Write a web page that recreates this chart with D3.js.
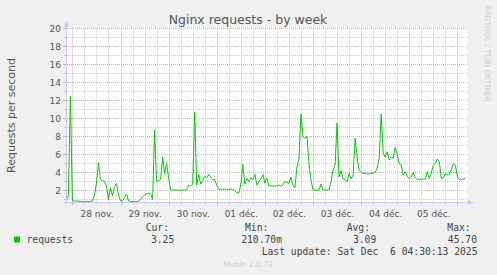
<!DOCTYPE html>
<html><head><meta charset="utf-8">
<script src="https://cdn.jsdelivr.net/npm/d3@7"></script>
<style>
html,body{margin:0;padding:0;background:#f0f0f0;}
svg{display:block;}
text{font-family:"DejaVu Sans",sans-serif;}
.mono{font-family:"DejaVu Sans Mono",monospace;white-space:pre;}
</style></head><body>
<svg id="c" width="497" height="275"></svg>
<script>
// ---- data ----
const title = "Nginx requests - by week";
const yAxisTitle = "Requests per second";
const seriesName = "requests";
const firstSample = Date.UTC(2025, 10, 27, 21, 0, 0); // hourly samples
const stepMs = 3600e3;
const requests = [
  0.95, 1.5, 12.5,
  0.85, 0.83, 0.83, 0.82, 0.80, 0.78, 0.76, 0.78, 0.78, 0.80, 0.82, 1.5,
  2.8, 5.1, 3.2, 3.1, 3.0, 2.5, 1.0, 2.3, 1.4, 2.4, 2.8, 1.5,
  0.85, 0.85, 1.2, 1.6, 0.85, 0.78, 0.78, 0.77, 0.76, 0.80, 1.0, 1.3,
  1.5, 1.6, 1.7, 1.6, 1.0, 8.7, 3.0, 3.1, 3.2, 5.7, 3.9, 5.0,
  3.4, 2.1, 2.05, 2.05, 2.05, 2.05, 2.0, 2.05, 2.05, 2.05, 2.6, 2.5,
  2.7, 10.7, 2.6, 3.8, 2.7, 3.1, 3.6, 3.4, 3.8, 3.5, 3.2, 3.2,
  2.6, 2.15, 2.15, 2.15, 2.15, 2.1, 2.1, 2.2, 2.1, 2.0, 1.8, 1.7,
  2.7, 4.9, 2.7, 3.35, 3.0, 3.4, 3.2, 3.8, 2.6, 3.0, 3.3, 3.8,
  2.8, 3.4, 2.5, 2.5, 2.5, 2.5, 2.5, 2.6, 2.5, 2.6, 3.0, 2.9,
  2.8, 3.5, 2.6, 2.3, 4.6, 5.5, 10.5, 8.0, 7.8, 8.0, 5.0, 3.2,
  2.05, 2.05, 2.0, 2.1, 2.7, 2.05, 2.05, 2.05, 2.1, 3.0, 4.3, 4.8,
  9.5, 3.5, 4.2, 3.3, 3.2, 3.0, 3.9, 3.3, 3.6, 7.8, 5.8, 4.3,
  4.0, 3.9, 3.9, 3.85, 3.85, 3.9, 3.9, 4.0, 4.5, 5.6, 10.5, 6.2,
  5.7, 6.3, 5.4, 5.7, 5.6, 6.8, 6.0, 5.0, 4.8, 3.7, 4.1, 3.6,
  3.3, 3.5, 4.0, 3.4, 3.25, 3.25, 3.25, 3.3, 3.25, 4.1, 3.3, 4.0,
  4.8, 5.0, 5.5, 5.2, 3.35, 3.4, 3.9, 3.7, 3.8, 4.3, 5.0, 4.8,
  3.6, 3.25, 3.2, 3.3, 3.3
];
const yMajorTicks = [2, 4, 6, 8, 10, 12, 14, 16, 18, 20];
const yMinorTicks = [1, 3, 5, 7, 9, 11, 13, 15, 17, 19];
const dayLabels = ["28 nov.", "29 nov.", "30 nov.", "01 déc.", "02 déc.", "03 déc.", "04 déc.", "05 déc."];
const legendHeads = ["Cur:", "Min:", "Avg:", "Max:"];
const legendValues = ["3.25", "210.70m", "3.09", "45.70"];
const lastUpdate = "Last update: Sat Dec  6 04:30:13 2025";
const footer = "Munin 2.0.73";
const sideText = "RRDTOOL / TOBI OETIKER";

// ---- layout ----
const L = 67, R = 467, T = 28.5, B = 202.5;
const viewStart = Date.UTC(2025, 10, 27, 21, 18, 25);
const viewEnd = viewStart + 199.5 * 3600e3;
const x = d3.scaleUtc().domain([viewStart, viewEnd]).range([L, R]);
const y = d3.scaleLinear().domain([0.667, 20]).range([B, T]);

const svg = d3.select("#c");
const lineCol = "#00cc00";
const majorCol = "#eba3a3", minorCol = "#c8c8c8", axisCol = "#c8c8f2", txtCol = "#555";

svg.append("rect").attr("width", 497).attr("height", 275).attr("fill", "#f0f0f0");
svg.append("rect").attr("x", L).attr("y", 28).attr("width", R - L).attr("height", B - 28).attr("fill", "#fff");

const px = v => Math.round(v) + 0.5;
const majors = d3.utcDay.range(new Date(viewStart), new Date(viewEnd));
const minors = d3.utcHour.every(6).range(new Date(viewStart), new Date(viewEnd))
  .filter(d => d.getUTCHours() !== 0);

const g = svg.append("g");
// minor grid
g.selectAll(".vmin").data(minors).join("line")
  .attr("x1", d => px(x(d))).attr("x2", d => px(x(d))).attr("y1", T).attr("y2", B)
  .attr("stroke", minorCol).attr("stroke-dasharray", "1,1");
g.selectAll(".hmin").data(yMinorTicks).join("line")
  .attr("x1", L).attr("x2", R).attr("y1", d => y(d)).attr("y2", d => y(d))
  .attr("stroke", minorCol).attr("stroke-dasharray", "1,1");
// major grid
g.selectAll(".vmaj").data(majors).join("line")
  .attr("x1", d => px(x(d))).attr("x2", d => px(x(d))).attr("y1", T).attr("y2", B)
  .attr("stroke", majorCol).attr("stroke-dasharray", "1,1");
g.selectAll(".hmaj").data(yMajorTicks).join("line")
  .attr("x1", L).attr("x2", R).attr("y1", d => y(d)).attr("y2", d => y(d))
  .attr("stroke", majorCol).attr("stroke-dasharray", "1,1");

// tick marks
g.selectAll(".tmin").data(minors).join("line")
  .attr("x1", d => px(x(d))).attr("x2", d => px(x(d))).attr("y1", B).attr("y2", B + 2)
  .attr("stroke", minorCol);
g.selectAll(".tmaj").data(majors).join("line")
  .attr("x1", d => px(x(d))).attr("x2", d => px(x(d))).attr("y1", B).attr("y2", B + 3)
  .attr("stroke", majorCol);
g.selectAll(".ytmin").data(yMinorTicks).join("line")
  .attr("x1", 64).attr("x2", 66).attr("y1", d => y(d)).attr("y2", d => y(d)).attr("stroke", minorCol);
g.selectAll(".ytmaj").data(yMajorTicks).join("line")
  .attr("x1", 63).attr("x2", 66).attr("y1", d => y(d)).attr("y2", d => y(d)).attr("stroke", majorCol);

// axes lines + arrows
svg.append("line").attr("x1", 66.5).attr("x2", 66.5).attr("y1", B + 2).attr("y2", 25).attr("stroke", axisCol);
svg.append("line").attr("x1", 64).attr("x2", 469).attr("y1", B).attr("y2", B).attr("stroke", axisCol);
svg.append("path").attr("d", "M64,27L69,27L66.5,20.5Z").attr("fill", axisCol);
svg.append("path").attr("d", `M468,${B - 2.5}L468,${B + 2.5}L474,${B}Z`).attr("fill", axisCol);

// data line
svg.append("clipPath").attr("id", "clip").append("rect")
  .attr("x", L).attr("y", T - 1).attr("width", R - L).attr("height", B - T + 1);
const line = d3.line()
  .x((d, i) => x(new Date(firstSample + i * stepMs)))
  .y(d => y(d));
svg.append("path").datum(requests).attr("d", line)
  .attr("fill", "none").attr("stroke", lineCol).attr("stroke-width", 1)
  .attr("clip-path", "url(#clip)");

// y axis labels
const yAxis = d3.axisLeft(y).tickValues(yMajorTicks).tickSize(0).tickPadding(6);
const ya = svg.append("g").attr("transform", `translate(67,0)`).call(yAxis);
ya.select(".domain").remove();
ya.selectAll("text").attr("fill", txtCol).style("font-family", "DejaVu Sans").style("font-size", "9px");

// x axis labels (noon of each day)
const labelDates = dayLabels.map((_, i) => new Date(Date.UTC(2025, 10, 28 + i, 12)));
const xAxis = d3.axisBottom(x).tickValues(labelDates).tickSize(0).tickFormat((d, i) => dayLabels[i]);
const xa = svg.append("g").attr("transform", `translate(0,${B})`).call(xAxis);
xa.select(".domain").remove();
xa.selectAll("text").attr("fill", txtCol).attr("y", 14).attr("dy", 0)
  .style("font-family", "DejaVu Sans").style("font-size", "9px");

// titles
svg.append("text").attr("x", 248).attr("y", 23.5).attr("text-anchor", "middle")
  .attr("fill", txtCol).style("font-size", "12.5px").text(title);
svg.append("text").attr("transform", "translate(14.5,115.5) rotate(-90)").attr("text-anchor", "middle")
  .attr("fill", txtCol).style("font-size", "11px").text(yAxisTitle);
svg.append("text").attr("transform", "translate(485,53.5) rotate(90)").attr("text-anchor", "middle")
  .attr("fill", "#cccccc").style("font-size", "7.5px").text(sideText);
svg.append("text").attr("x", 248).attr("y", 266.5).attr("text-anchor", "middle")
  .attr("fill", "#cccccc").style("font-size", "7.6px").text(footer);

// legend
svg.append("rect").attr("x", 14).attr("y", 236.5).attr("width", 6).attr("height", 6).attr("fill", lineCol);
const mono = "9.7px";
svg.append("text").attr("class", "mono").attr("x", 26.5).attr("y", 242.5).attr("fill", "#444")
  .style("font-size", mono).text(seriesName);
const headX = [145.7, 245, 346.7, 447.3];
const valEndX = [174.3, 282, 376.3, 477];
svg.selectAll(".lh").data(legendHeads).join("text").attr("class", "mono")
  .attr("x", (d, i) => headX[i]).attr("y", 231).attr("fill", "#444").style("font-size", mono).text(d => d);
svg.selectAll(".lv").data(legendValues).join("text").attr("class", "mono")
  .attr("x", (d, i) => valEndX[i]).attr("y", 242.5).attr("text-anchor", "end")
  .attr("fill", "#444").style("font-size", mono).text(d => d);
svg.append("text").attr("class", "mono").attr("x", 261.7).attr("y", 254.5).attr("fill", "#444")
  .style("font-size", mono).text(lastUpdate);
</script>
</body></html>
